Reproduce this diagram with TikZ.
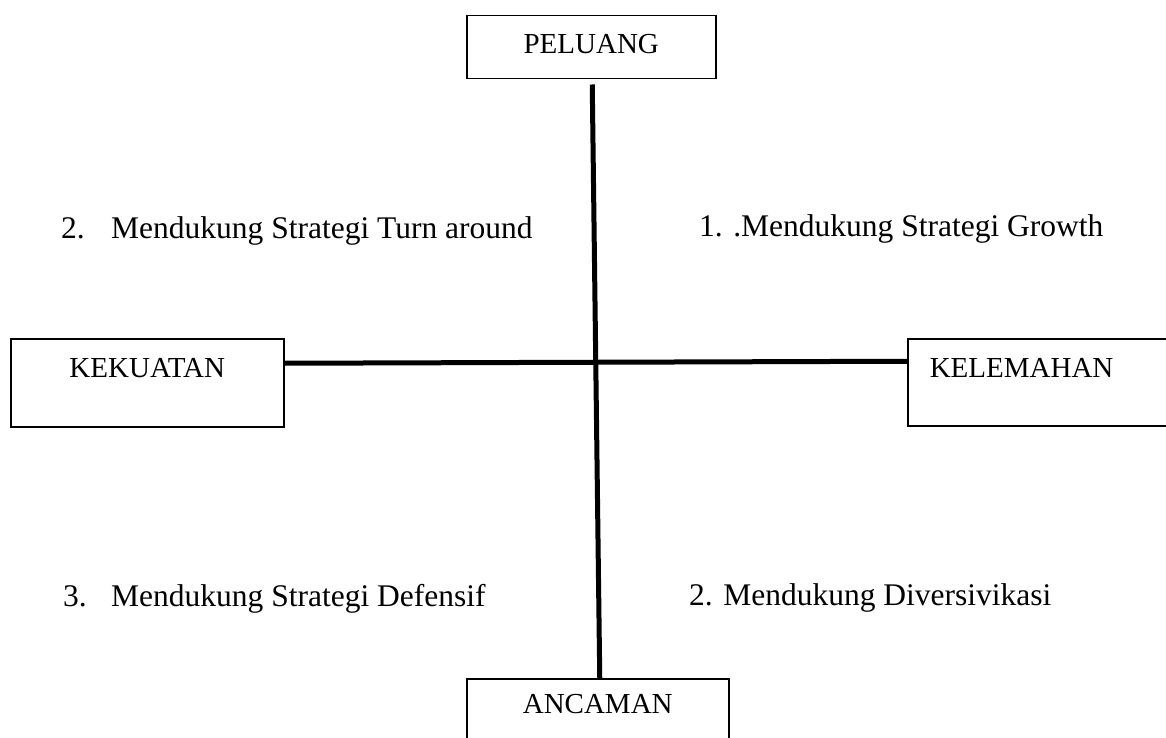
\documentclass[tikz,border=0pt]{standalone}
\usepackage{fontspec}
\setmainfont{Liberation Serif}
\begin{document}
\begin{tikzpicture}[x=1pt,y=-1pt,
  box/.style={draw, line width=1.5pt, rectangle, anchor=north west, inner ysep=0pt,
    font=\fontsize{29}{34}\selectfont},
  item/.style={anchor=base west, inner sep=0pt, font=\fontsize{31.5}{36}\selectfont},
  axis/.style={line width=5pt}]
\useasboundingbox (0,0) rectangle (1166,738);
\node[box, inner xsep=0pt, text width=249pt, align=center, text height=38pt, text depth=25pt] (peluang) at (466,15) {PELUANG};
\node[box, inner xsep=0pt, text width=273pt, align=center, text height=39pt, text depth=49pt] (kekuatan) at (10,338) {KEKUATAN};
\node[box, inner xsep=22pt, text width=240pt, align=left, text height=39pt, text depth=48pt] (kelemahan) at (907,338) {KELEMAHAN};
\node[box, inner xsep=0pt, text width=262pt, align=center, text height=35pt, text depth=50pt] (ancaman) at (466,678) {ANCAMAN};
\draw[axis] ([xshift=1pt,yshift=-5pt]peluang.south) -- ([xshift=2pt]ancaman.north);
\draw[axis] ([yshift=19.5pt]kekuatan.east) -- ([yshift=21pt]kelemahan.west);
\node[item] (q2) at (61,238) {\makebox[50pt][l]{2.}Mendukung Strategi Turn around};
\node[item] (q1) at (699,236) {1. .Mendukung Strategi Growth};
\node[item] (q3) at (63,606) {\makebox[48pt][l]{3.}Mendukung Strategi Defensif};
\node[item] (q4) at (689,605) {2. Mendukung Diversivikasi};
\end{tikzpicture}
\end{document}
